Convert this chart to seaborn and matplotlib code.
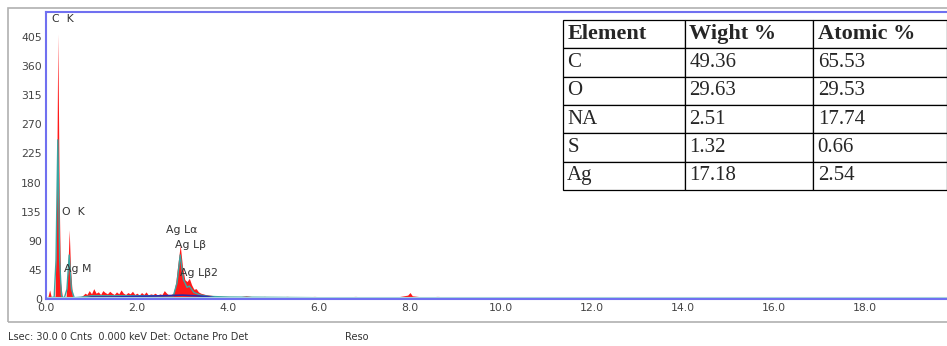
import numpy as np
import pandas as pd
import matplotlib
matplotlib.use("Agg")
import matplotlib.pyplot as plt
from matplotlib.patches import Rectangle
import seaborn as sns

# EDS spectrum (keV, counts)
red_kev = [0.00, 0.04, 0.08, 0.10, 0.12, 0.16, 0.20, 0.23, 0.26, 0.29, 0.32, 0.36, 0.40, 0.44,
           0.48, 0.51, 0.54, 0.58, 0.62, 0.70, 0.80, 0.86, 0.90, 0.95, 1.00, 1.05, 1.10, 1.15,
           1.20, 1.25, 1.30, 1.35, 1.40, 1.45, 1.50, 1.55, 1.60, 1.65, 1.70, 1.75, 1.80, 1.85,
           1.90, 1.95, 2.00, 2.05, 2.10, 2.15, 2.20, 2.25, 2.30, 2.35, 2.40, 2.45, 2.50, 2.55,
           2.60, 2.65, 2.70, 2.75, 2.80, 2.85, 2.90, 2.95, 3.00, 3.05, 3.10, 3.15, 3.20, 3.25,
           3.30, 3.35, 3.40, 3.50, 3.60, 3.70, 3.80, 4.00, 4.20, 4.40, 4.60, 4.80, 5.00, 5.30,
           5.60, 5.90, 6.20, 6.50, 6.80, 7.10, 7.40, 7.70, 7.95, 8.00, 8.05, 8.30, 8.60, 9.00,
           9.50, 10.0, 11.0, 12.0, 13.0, 14.0, 15.0, 16.0, 17.0, 18.0, 19.0, 20.0]
red_cnt = [0, 3, 14, 8, 2, 0, 5, 130, 410, 160, 25, 3, 0, 2,
           45, 107, 45, 5, 1, 2, 5, 9, 7, 13, 8, 16, 9, 11,
           7, 13, 10, 8, 12, 9, 7, 11, 8, 14, 9, 7, 10, 8,
           12, 7, 9, 6, 10, 7, 11, 6, 8, 7, 9, 6, 8, 7,
           13, 9, 6, 7, 9, 25, 55, 83, 50, 30, 27, 32, 22, 15,
           16, 11, 9, 7, 6, 5, 4, 4, 3, 5, 3, 4, 3, 4,
           3, 4, 3, 3, 4, 3, 3, 3, 6, 10, 5, 3, 4, 3,
           2, 1, 1, 1, 1, 1, 1, 1, 1, 1, 1, 1]

teal_kev = [0.00, 0.10, 0.18, 0.22, 0.26, 0.30, 0.34, 0.40, 0.46, 0.51, 0.56, 0.62, 0.80, 1.00,
            1.50, 2.00, 2.50, 2.80, 2.88, 2.95, 3.02, 3.10, 3.15, 3.25, 3.40, 3.60, 4.00, 6.00,
            9.50, 9.60, 20.0]
teal_cnt = [0, 2, 3, 60, 246, 60, 5, 1, 15, 68, 15, 2, 3, 5,
            5, 5, 5, 5, 25, 68, 30, 18, 20, 10, 6, 4, 3, 2,
            2, 0, 0]

blue_kev = [0.80, 1.00, 1.50, 2.00, 2.60, 3.00, 3.50, 3.70]
blue_cnt = [1, 3, 3, 4, 5, 6, 4, 2]

peak_labels = ["C  K", "O  K", "Ag M", "Ag Lα", "Ag Lβ", "Ag Lβ2"]
peak_kev = [0.13, 0.35, 0.40, 2.64, 2.84, 2.95]
peak_cnt = [425, 127, 39, 99, 76, 32]

y_ticks = [0, 45, 90, 135, 180, 225, 270, 315, 360, 405]
x_ticks = [0.0, 2.0, 4.0, 6.0, 8.0, 10.0, 12.0, 14.0, 16.0, 18.0]

table_header = ["Element", "Wight %", "Atomic %"]
elements = ["C", "O", "NA", "S", "Ag"]
weight_pct = ["49.36", "29.63", "2.51", "1.32", "17.18"]
atomic_pct = ["65.53", "29.53", "17.74", "0.66", "2.54"]

sns.set_style("white")
plt.rcParams['font.family'] = ['DejaVu Sans']

W, H = 947, 346
fig = plt.figure(figsize=(W / 100, H / 100), dpi=100)

# outer grey frame
fig.patches.append(Rectangle((8 / W, 1 - 322 / H), 1.0, (322 - 8) / H,
                             transform=fig.transFigure, fill=False,
                             edgecolor="#b0b0b0", linewidth=1.2))

ax = fig.add_axes([46 / W, 1 - 299 / H, 1.0, (299 - 12) / H])
ax.set_xlim(0, W / 45.5)
ax.set_ylim(0, (299 - 12) / 0.647)

spec = pd.DataFrame({"kev": red_kev, "cnt": red_cnt})
ax.fill_between(spec["kev"], 0, spec["cnt"], color="#ff1a1a", linewidth=0)
sns.lineplot(x=teal_kev, y=teal_cnt, ax=ax, color="#3aa6a2", linewidth=1.0)
sns.lineplot(x=blue_kev, y=blue_cnt, ax=ax, color="#2828a8", linewidth=1.2)
ax.axhline(1, color="#a8d8e0", linewidth=1.5)

for lab, xk, yc in zip(peak_labels, peak_kev, peak_cnt):
    ax.text(xk, yc, lab, fontsize=7.8, color="#333333", ha="left", va="bottom")

ax.set_yticks(y_ticks)
ax.set_xticks(x_ticks)
ax.set_xticklabels([f"{v:.1f}" for v in x_ticks])
ax.tick_params(axis="both", labelsize=7.8, colors="#444444", length=2, pad=1)
for s in ax.spines.values():
    s.set_edgecolor("#7070f0")
    s.set_linewidth(1.5)
ax.set_xlabel("")
ax.set_ylabel("")

# composition table in its own axes
tax = fig.add_axes([563 / W, 1 - 190 / H, 384 / W, (190 - 20) / H])
tax.axis("off")
tab = tax.table(cellText=[[e, w, a] for e, w, a in zip(elements, weight_pct, atomic_pct)],
                colLabels=table_header, cellLoc="left", colLoc="left",
                colWidths=[122 / 384, 128 / 384, 134 / 384], bbox=[0, 0, 1, 1])
tab.auto_set_font_size(False)
for (r, c), cell in tab.get_celld().items():
    cell.set_linewidth(0.9)
    cell.set_edgecolor("black")
    cell.set_facecolor("white")
    cell.PAD = 0.035
    txt = cell.get_text()
    txt.set_fontfamily("Liberation Serif")
    txt.set_fontsize(15)
    if r == 0:
        txt.set_fontweight("bold")
        txt.set_fontsize(16)

fig.text(8 / W, 1 - 337 / H, "Lsec: 30.0 0 Cnts  0.000 keV Det: Octane Pro Det",
         fontsize=7, color="#333333", va="center")
fig.text(345 / W, 1 - 337 / H, "Reso", fontsize=7, color="#333333", va="center")

fig.savefig("out.png", dpi=100)
